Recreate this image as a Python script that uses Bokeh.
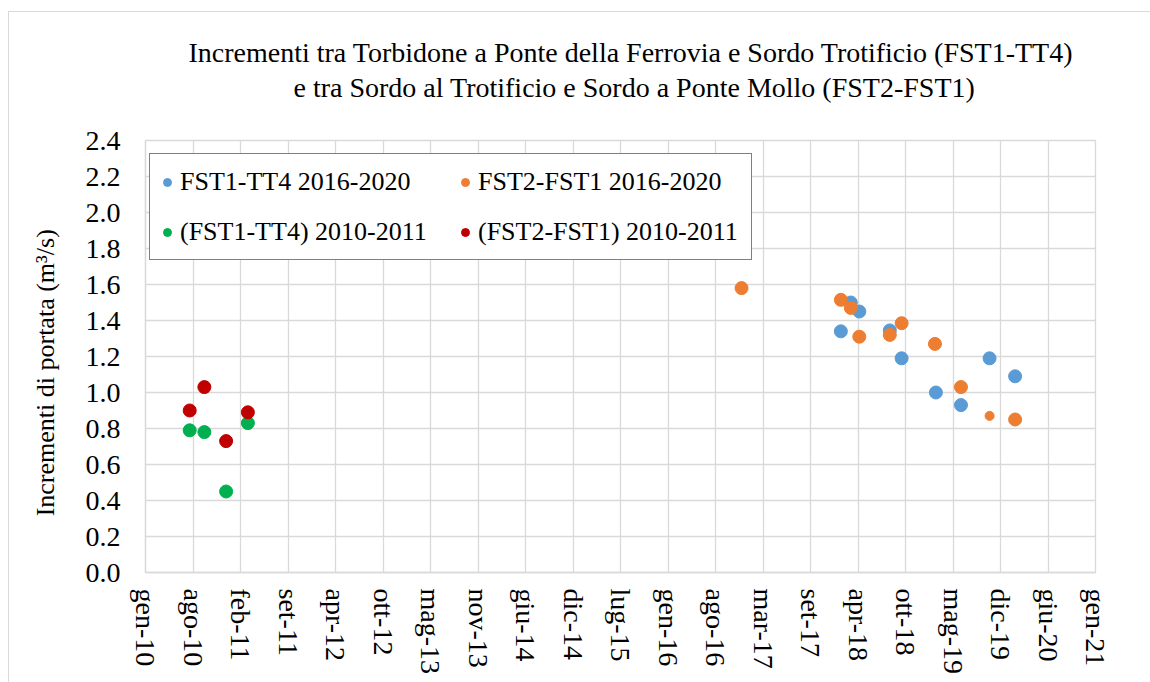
import math
import pandas as pd
from bokeh.plotting import figure
from bokeh.models import Range1d, FixedTicker, Title, Legend, LegendItem, NumeralTickFormatter
from bokeh.embed import file_html
from bokeh.resources import INLINE

# ---------------- data ----------------
x_tick_labels = ["gen-10", "ago-10", "feb-11", "set-11", "apr-12", "ott-12", "mag-13",
                 "nov-13", "giu-14", "dic-14", "lug-15", "gen-16", "ago-16", "mar-17",
                 "set-17", "apr-18", "ott-18", "mag-19", "dic-19", "giu-20", "gen-21"]

fst1_tt4_dates = ["2018-01-20", "2018-03-03", "2018-04-08", "2018-08-15", "2018-10-04",
                  "2019-02-26", "2019-06-12", "2019-10-11", "2020-01-27"]
fst1_tt4_vals = [1.34, 1.50, 1.45, 1.345, 1.19, 1.00, 0.93, 1.19, 1.09]

fst2_fst1_dates = ["2016-11-26", "2018-01-20", "2018-03-03", "2018-04-08", "2018-08-15",
                   "2018-10-04", "2019-02-22", "2019-06-12", "2019-10-11", "2020-01-27"]
fst2_fst1_vals = [1.58, 1.515, 1.47, 1.31, 1.32, 1.385, 1.27, 1.03, 0.87, 0.85]

old_dates = ["2010-07-07", "2010-09-07", "2010-12-08", "2011-03-10"]
old_fst1_tt4_vals = [0.79, 0.78, 0.45, 0.83]
old_fst2_fst1_vals = [0.90, 1.03, 0.73, 0.89]

title_lines = ["Incrementi tra Torbidone a Ponte della Ferrovia e Sordo Trotificio (FST1-TT4)",
               "e tra Sordo al Trotificio e Sordo a Ponte Mollo (FST2-FST1)"]
y_title = "Incrementi di portata (m³/s)"

# ---------------- axis mapping (date -> tick index) ----------------
axis_start = pd.Timestamp("2010-01-01")
axis_end = pd.Timestamp("2021-01-01")
n_int = len(x_tick_labels) - 1
step_days = (axis_end - axis_start).days / n_int


def to_idx(dates):
    return [(pd.Timestamp(d) - axis_start).days / step_days for d in dates]


FONT = "Liberation Serif"
GRID = "#d9d9d9"

p = figure(width=1142, height=671, x_range=Range1d(0, n_int), y_range=Range1d(0, 2.4),
           output_backend="svg", toolbar_location=None,
           margin=(11, 0, 0, 8),
           styles={"border-top": "1px solid #d9d9d9", "border-left": "1px solid #d9d9d9"},
           min_border_left=136, min_border_right=56, min_border_top=128, min_border_bottom=111)
p.background_fill_color = "white"
p.border_fill_color = "white"
p.outline_line_color = GRID
p.outline_line_width = 1.3

# x axis
p.xaxis.ticker = FixedTicker(ticks=list(range(n_int + 1)))
p.xaxis.major_label_overrides = {i: lbl for i, lbl in enumerate(x_tick_labels)}
p.xaxis.major_label_orientation = -math.pi / 2
p.xaxis.major_label_standoff = 16
# y axis
p.yaxis.ticker = FixedTicker(ticks=[round(0.2 * i, 1) for i in range(13)])
p.yaxis.formatter = NumeralTickFormatter(format="0.0")
p.yaxis.major_label_standoff = 25
p.yaxis.axis_label = y_title + "\u00a0" * 5
p.yaxis.axis_label_text_font = FONT
p.yaxis.axis_label_text_font_size = "26px"
p.yaxis.axis_label_text_font_style = "normal"
p.yaxis.axis_label_text_color = "black"
p.yaxis.axis_label_standoff = 23

for ax in (p.xaxis, p.yaxis):
    ax.major_label_text_font = FONT
    ax.major_label_text_font_size = "28px"
    ax.major_label_text_color = "black"
    ax.axis_line_color = GRID
    ax.axis_line_width = 1.3
    ax.major_tick_line_color = None
    ax.minor_tick_line_color = None
    ax.major_tick_out = 0
    ax.major_tick_in = 0

p.xgrid.ticker = FixedTicker(ticks=list(range(n_int + 1)))
p.ygrid.ticker = FixedTicker(ticks=[round(0.2 * i, 1) for i in range(13)])
for g in (p.xgrid, p.ygrid):
    g.grid_line_color = GRID
    g.grid_line_width = 1.3

# ---------------- series ----------------
blue, orange, green, red = "#5b9bd5", "#ed7d31", "#00b050", "#c00000"

r_blue = p.scatter(to_idx(fst1_tt4_dates), fst1_tt4_vals, size=13, color=blue)
orange_sizes = [13] * len(fst2_fst1_vals)
orange_sizes[8] = 9
r_orange = p.scatter(to_idx(fst2_fst1_dates), fst2_fst1_vals, size=orange_sizes, color=orange)
r_green = p.scatter(to_idx(old_dates), old_fst1_tt4_vals, size=13, color=green)
r_red = p.scatter(to_idx(old_dates), old_fst2_fst1_vals, size=13, color=red)

legend = Legend(items=[
    LegendItem(label="FST1-TT4 2016-2020", renderers=[r_blue]),
    LegendItem(label="(FST1-TT4) 2010-2011", renderers=[r_green]),
    LegendItem(label="FST2-FST1 2016-2020", renderers=[r_orange]),
    LegendItem(label="(FST2-FST1) 2010-2011", renderers=[r_red]),
], location=(4, 312), orientation="vertical", ncols=2)
legend.label_text_font = FONT
legend.label_text_font_size = "26px"
legend.label_text_color = "black"
legend.glyph_width = 20
legend.glyph_height = 20
legend.label_height = 41
legend.label_width = 266
legend.label_standoff = 3
legend.spacing = 9
legend.padding = 7
legend.margin = 0
legend.border_line_color = "black"
legend.border_line_width = 1.5
legend.background_fill_color = "white"
legend.background_fill_alpha = 1
p.add_layout(legend, "center")

# ---------------- title (two lines, second one centred with padding) ----------------
p.title.visible = False
spacer = Title(text="\u00a0", text_font_size="2px", standoff=33)
p.add_layout(spacer, "above")
pads = ["\u00a0" * 3, "\u00a0" * 18]
title = Title(text="\n".join(pd_ + t for pd_, t in zip(pads, title_lines)), align="center",
              standoff=0, text_font=FONT, text_font_size="28px", text_font_style="normal",
              text_color="black", text_line_height=1.14)
p.add_layout(title, "above")

open("out.html", "w").write(file_html(p, INLINE))
